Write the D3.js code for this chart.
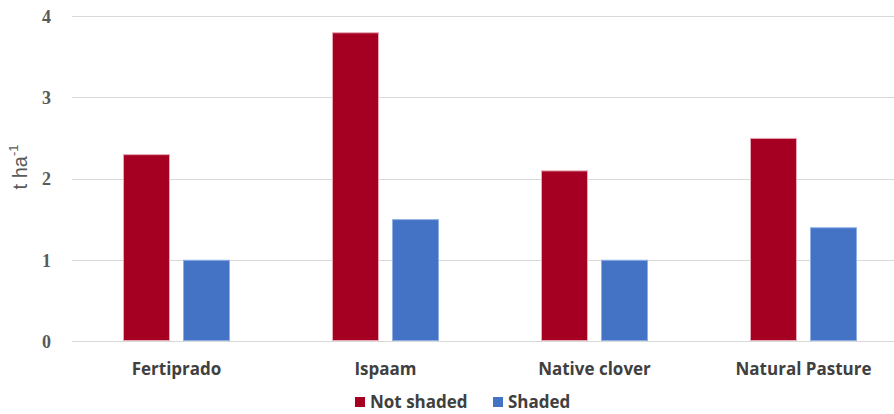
<!DOCTYPE html>
<html>
<head>
<meta charset="utf-8">
<script src="https://cdn.jsdelivr.net/npm/d3@7"></script>
<style>
  body { margin: 0; background: #fff; }
  svg { display: block; }
</style>
</head>
<body>
<div id="graf"></div>
<script>
const categories = ["Fertiprado", "Ispaam", "Native clover", "Natural Pasture"]
const seriesNames = ["Not shaded", "Shaded"]
const notShaded = [2.3, 3.8, 2.1, 2.5]
const shaded = [1.0, 1.5, 1.0, 1.4]
const yTicks = [0, 1, 2, 3, 4]

const colores = { "Not shaded": "#A50021", "Shaded": "#4472C4" }
const bordes = { "Not shaded": "#e8a9b6", "Shaded": "#8fb0e6" }

const anchoTotal = 894
const altoTotal = 414
const margins = { top: 16, left: 72, bottom: 73 }
const plotRight = 908

const dataset = categories.map((c, i) => ({
  cat: c,
  valores: [
    { serie: "Not shaded", valor: notShaded[i] },
    { serie: "Shaded", valor: shaded[i] }
  ]
}))

const svg = d3.select("#graf")
  .append("svg")
  .attr("width", anchoTotal)
  .attr("height", altoTotal)

const y = d3.scaleLinear()
  .domain([0, 4])
  .range([altoTotal - margins.bottom, margins.top])

const x0 = d3.scaleBand()
  .domain(categories)
  .range([margins.left, plotRight])
  .paddingInner(0.488)
  .paddingOuter(0.244)

const x1 = d3.scaleBand()
  .domain(seriesNames)
  .range([0, x0.bandwidth()])
  .paddingInner(0.217)

// Rejilla
svg.append("g")
  .selectAll("line")
  .data(yTicks)
  .join("line")
  .attr("x1", margins.left)
  .attr("x2", anchoTotal)
  .attr("y1", d => Math.round(y(d)) + 0.5)
  .attr("y2", d => Math.round(y(d)) + 0.5)
  .attr("stroke", "#d9d9d9")
  .attr("stroke-width", 1)

// Eje Y
const yAxis = d3.axisLeft(y).tickValues(yTicks).tickFormat(d3.format("d")).tickSize(0).tickPadding(0)
const yAxisGroup = svg.append("g")
  .attr("transform", `translate(51, 0)`)
  .call(yAxis)
yAxisGroup.select(".domain").remove()
yAxisGroup.selectAll("text")
  .attr("fill", "#595959")
  .style("font-family", "'Liberation Serif', 'Times New Roman', serif")
  .style("font-weight", "bold")
  .style("font-size", "18px")
  .attr("dy", "0.35em")

// Barras
const grupos = svg.append("g")
  .selectAll("g")
  .data(dataset)
  .join("g")
  .attr("transform", d => `translate(${x0(d.cat)}, 0)`)

grupos.selectAll("rect")
  .data(d => d.valores)
  .join("rect")
  .attr("x", d => x1(d.serie) + 0.5)
  .attr("y", d => y(d.valor) + 0.5)
  .attr("width", x1.bandwidth() - 1)
  .attr("height", d => y(0) - y(d.valor) - 1)
  .attr("fill", d => colores[d.serie])
  .attr("stroke", d => bordes[d.serie])
  .attr("stroke-width", 1)

// Eje X
const xAxis = d3.axisBottom(x0).tickSize(0).tickPadding(0)
const xAxisGroup = svg.append("g")
  .attr("transform", `translate(0, ${y(0) + 28})`)
  .call(xAxis)
xAxisGroup.select(".domain").remove()
xAxisGroup.selectAll("text")
  .attr("fill", "#404040")
  .style("font-family", "'Open Sans', 'Liberation Sans', sans-serif")
  .style("font-weight", "bold")
  .style("font-size", "17px")
  .attr("dy", "0.35em")

// Titulo Y
const titulo = svg.append("text")
  .attr("transform", "translate(27, 167) rotate(-90)")
  .attr("text-anchor", "middle")
  .attr("fill", "#595959")
  .style("font-family", "'Liberation Sans', Arial, sans-serif")
  .style("font-size", "20px")
titulo.append("tspan").text("t ha")
titulo.append("tspan").attr("dy", -9).style("font-size", "13px").text("-1")

// Leyenda
const leyenda = svg.append("g")
  .attr("transform", "translate(355, 402)")
const items = [{ serie: "Not shaded", x: 0 }, { serie: "Shaded", x: 138 }]
const item = leyenda.selectAll("g")
  .data(items)
  .join("g")
  .attr("transform", d => `translate(${d.x}, 0)`)
item.append("rect")
  .attr("x", 0)
  .attr("y", -5)
  .attr("width", 10)
  .attr("height", 10)
  .attr("fill", d => colores[d.serie])
item.append("text")
  .attr("x", 15)
  .attr("dy", "0.35em")
  .attr("fill", "#404040")
  .style("font-family", "'Open Sans', 'Liberation Sans', sans-serif")
  .style("font-weight", "bold")
  .style("font-size", "17px")
  .text(d => d.serie)
</script>
</body>
</html>
